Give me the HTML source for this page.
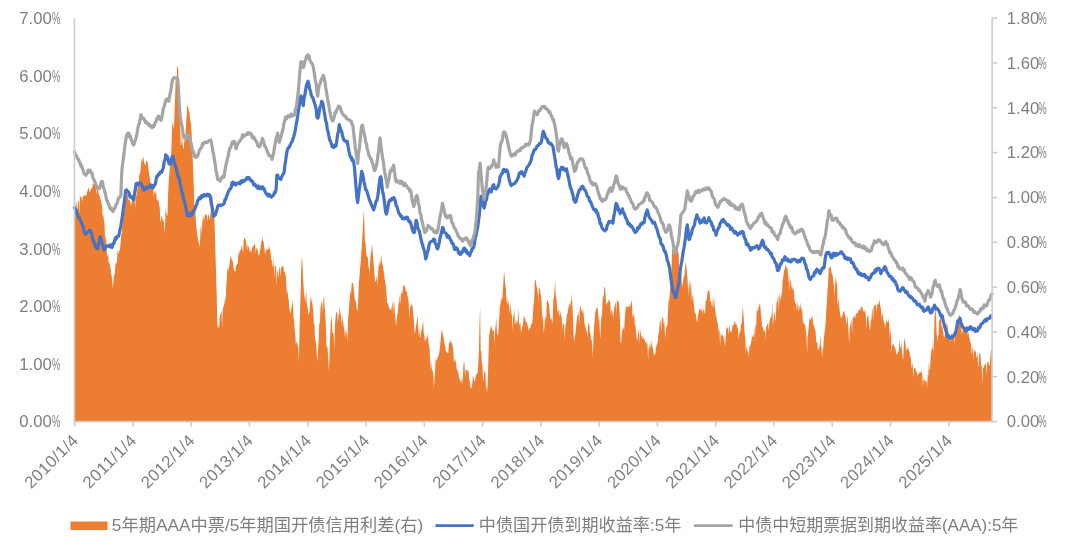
<!DOCTYPE html>
<html lang="zh"><head><meta charset="utf-8"><title>chart</title>
<style>
html,body{margin:0;padding:0;background:#fff;}
body{width:1080px;height:554px;overflow:hidden;}
svg{display:block;}
text{font-family:"Liberation Sans","Noto Sans CJK SC",sans-serif;font-weight:300;fill:#7f7f7f;}
.ax{font-size:16.7px;}
.lg{font-size:17.2px;font-weight:400;}
</style></head><body>
<svg width="1080" height="554" viewBox="0 0 1080 554">
<rect width="1080" height="554" fill="#fff"/>
<path d="M74.5,421.0 L74.5,197.2 L75.1,201.6 L75.7,212.0 L76.3,200.2 L76.9,208.4 L77.5,209.4 L78.1,201.3 L78.7,200.5 L79.3,215.3 L79.9,194.3 L80.5,197.5 L81.1,196.4 L81.7,198.3 L82.3,202.1 L82.9,195.3 L83.5,196.0 L84.1,196.4 L84.7,194.5 L85.3,196.0 L85.9,194.7 L86.5,195.6 L87.1,192.0 L87.7,190.5 L88.3,187.6 L88.9,188.8 L89.5,191.7 L90.1,191.7 L90.7,190.1 L91.3,188.6 L91.9,188.8 L92.5,185.9 L93.1,182.7 L93.7,184.5 L94.3,184.2 L94.9,180.9 L95.5,180.5 L96.1,187.7 L96.7,194.7 L97.3,187.9 L97.9,188.3 L98.5,192.5 L99.1,195.8 L99.7,195.7 L100.3,198.7 L100.9,200.4 L101.5,203.2 L102.1,207.0 L102.7,217.6 L103.3,213.7 L103.9,220.9 L104.5,222.9 L105.1,242.1 L105.7,234.7 L106.3,240.8 L106.9,255.8 L107.5,255.4 L108.1,253.8 L108.7,263.1 L109.3,261.9 L109.9,265.7 L110.5,267.6 L111.1,273.5 L111.7,275.4 L112.3,282.8 L112.9,288.3 L113.5,279.7 L114.1,275.0 L114.7,274.7 L115.3,266.7 L115.9,262.1 L116.5,264.1 L117.1,260.2 L117.7,249.3 L118.3,254.5 L118.9,251.0 L119.5,250.9 L120.1,248.2 L120.7,242.6 L121.3,234.2 L121.9,233.8 L122.5,223.2 L123.1,219.3 L123.7,212.7 L124.3,211.5 L124.9,204.5 L125.5,195.9 L126.1,198.3 L126.7,195.8 L127.3,194.1 L127.9,193.4 L128.5,199.6 L129.1,200.8 L129.7,199.4 L130.3,201.7 L130.9,206.4 L131.5,203.1 L132.1,200.1 L132.7,200.0 L133.3,195.1 L133.9,201.9 L134.5,197.6 L135.1,209.8 L135.7,195.9 L136.3,195.6 L136.9,193.5 L137.5,188.0 L138.1,186.1 L138.7,185.4 L139.3,173.1 L139.9,175.0 L140.5,170.7 L141.1,164.5 L141.7,158.5 L142.3,159.1 L142.9,162.2 L143.5,155.0 L144.1,162.9 L144.7,163.9 L145.3,165.7 L145.9,161.8 L146.5,160.8 L147.1,161.8 L147.7,161.4 L148.3,168.4 L148.9,172.2 L149.5,177.0 L150.1,181.3 L150.7,182.9 L151.3,185.5 L151.9,188.3 L152.5,187.8 L153.1,187.1 L153.7,196.9 L154.3,189.8 L154.9,194.6 L155.5,192.8 L156.1,189.2 L156.7,199.4 L157.3,200.6 L157.9,200.5 L158.5,199.6 L159.1,205.7 L159.7,206.7 L160.3,222.0 L160.9,220.7 L161.5,216.2 L162.1,215.6 L162.7,221.3 L163.3,220.0 L163.9,221.9 L164.5,233.8 L165.1,223.4 L165.7,207.5 L166.3,211.7 L166.9,215.8 L167.5,215.2 L168.1,193.6 L168.7,182.4 L169.3,173.9 L169.9,167.5 L170.5,157.6 L171.1,155.1 L171.7,140.2 L172.3,122.7 L172.9,123.0 L173.5,129.3 L174.1,123.7 L174.7,108.8 L175.3,91.5 L175.9,71.6 L176.5,86.1 L177.1,67.1 L177.7,65.7 L178.3,71.0 L178.9,90.8 L179.5,105.5 L180.1,120.5 L180.7,145.5 L181.3,144.7 L181.9,133.2 L182.5,143.0 L183.1,148.2 L183.7,148.7 L184.3,140.5 L184.9,140.8 L185.5,136.2 L186.1,123.5 L186.7,114.8 L187.3,104.3 L187.9,106.2 L188.5,108.6 L189.1,111.2 L189.7,114.0 L190.3,123.6 L190.9,119.6 L191.5,131.4 L192.1,144.1 L192.7,158.9 L193.3,173.1 L193.9,189.2 L194.5,210.2 L195.1,203.5 L195.7,219.2 L196.3,226.2 L196.9,231.6 L197.5,236.6 L198.1,239.0 L198.7,243.0 L199.3,244.9 L199.9,247.3 L200.5,229.1 L201.1,224.2 L201.7,234.8 L202.3,221.8 L202.9,219.2 L203.5,215.4 L204.1,221.7 L204.7,215.7 L205.3,215.1 L205.9,214.2 L206.5,214.4 L207.1,216.2 L207.7,221.5 L208.3,214.2 L208.9,214.8 L209.5,220.6 L210.1,216.3 L210.7,211.3 L211.3,205.5 L211.9,214.1 L212.5,194.0 L213.1,204.5 L213.7,206.9 L214.3,217.0 L214.9,233.8 L215.5,254.9 L216.1,275.5 L216.7,294.1 L217.3,321.7 L217.9,328.3 L218.5,326.3 L219.1,328.3 L219.7,318.1 L220.3,314.2 L220.9,313.5 L221.5,310.4 L222.1,327.2 L222.7,310.8 L223.3,307.1 L223.9,306.0 L224.5,302.5 L225.1,296.6 L225.7,302.8 L226.3,284.6 L226.9,277.2 L227.5,266.5 L228.1,271.0 L228.7,267.7 L229.3,265.7 L229.9,261.3 L230.5,256.2 L231.1,256.5 L231.7,260.1 L232.3,259.7 L232.9,262.7 L233.5,266.5 L234.1,271.1 L234.7,271.3 L235.3,271.5 L235.9,265.4 L236.5,265.6 L237.1,264.3 L237.7,263.7 L238.3,254.7 L238.9,254.2 L239.5,251.5 L240.1,249.8 L240.7,251.0 L241.3,246.8 L241.9,245.5 L242.5,249.7 L243.1,253.5 L243.7,240.4 L244.3,237.5 L244.9,237.9 L245.5,239.2 L246.1,241.4 L246.7,249.4 L247.3,242.2 L247.9,250.3 L248.5,245.6 L249.1,247.1 L249.7,251.7 L250.3,249.2 L250.9,253.2 L251.5,251.1 L252.1,249.0 L252.7,245.8 L253.3,245.7 L253.9,246.6 L254.5,242.9 L255.1,244.8 L255.7,253.8 L256.3,248.3 L256.9,248.4 L257.5,249.2 L258.1,253.3 L258.7,256.1 L259.3,254.5 L259.9,249.9 L260.5,248.8 L261.1,241.9 L261.7,241.7 L262.3,236.2 L262.9,241.2 L263.5,241.0 L264.1,247.1 L264.7,250.2 L265.3,254.4 L265.9,250.6 L266.5,250.0 L267.1,248.5 L267.7,250.0 L268.3,249.9 L268.9,244.9 L269.5,248.4 L270.1,249.1 L270.7,253.4 L271.3,260.7 L271.9,260.3 L272.5,265.7 L273.1,267.2 L273.7,257.1 L274.3,279.0 L274.9,266.8 L275.5,264.4 L276.1,268.1 L276.7,287.0 L277.3,269.5 L277.9,272.3 L278.5,278.7 L279.1,268.3 L279.7,266.5 L280.3,277.6 L280.9,267.8 L281.5,267.7 L282.1,266.5 L282.7,265.9 L283.3,266.3 L283.9,271.9 L284.5,270.9 L285.1,273.7 L285.7,275.1 L286.3,283.6 L286.9,294.2 L287.5,289.2 L288.1,297.6 L288.7,300.1 L289.3,307.3 L289.9,311.7 L290.5,313.5 L291.1,311.3 L291.7,306.6 L292.3,304.4 L292.9,299.4 L293.5,317.4 L294.1,320.6 L294.7,328.7 L295.3,334.7 L295.9,345.7 L296.5,342.0 L297.1,341.6 L297.7,345.6 L298.3,348.2 L298.9,363.0 L299.5,330.8 L300.1,310.6 L300.7,291.4 L301.3,266.0 L301.9,256.7 L302.5,263.8 L303.1,277.5 L303.7,288.5 L304.3,300.6 L304.9,292.6 L305.5,303.8 L306.1,288.5 L306.7,302.6 L307.3,305.3 L307.9,309.5 L308.5,315.0 L309.1,313.8 L309.7,310.4 L310.3,299.1 L310.9,296.6 L311.5,301.3 L312.1,302.6 L312.7,305.9 L313.3,312.6 L313.9,323.9 L314.5,324.8 L315.1,339.2 L315.7,340.9 L316.3,346.1 L316.9,356.8 L317.5,362.1 L318.1,348.8 L318.7,339.1 L319.3,322.5 L319.9,323.8 L320.5,307.4 L321.1,305.4 L321.7,300.7 L322.3,302.4 L322.9,313.1 L323.5,297.7 L324.1,296.5 L324.7,307.4 L325.3,314.3 L325.9,326.8 L326.5,347.2 L327.1,345.7 L327.7,350.1 L328.3,360.7 L328.9,370.9 L329.5,355.7 L330.1,338.8 L330.7,324.7 L331.3,315.2 L331.9,321.3 L332.5,332.9 L333.1,332.9 L333.7,334.5 L334.3,349.7 L334.9,325.0 L335.5,318.9 L336.1,310.9 L336.7,312.8 L337.3,313.7 L337.9,323.9 L338.5,313.8 L339.1,315.1 L339.7,304.9 L340.3,316.8 L340.9,310.4 L341.5,325.9 L342.1,315.1 L342.7,321.6 L343.3,322.2 L343.9,328.0 L344.5,331.0 L345.1,338.7 L345.7,329.1 L346.3,334.7 L346.9,329.2 L347.5,343.3 L348.1,317.6 L348.7,313.2 L349.3,303.1 L349.9,297.5 L350.5,290.1 L351.1,293.4 L351.7,283.6 L352.3,283.2 L352.9,282.4 L353.5,286.4 L354.1,293.2 L354.7,298.6 L355.3,300.7 L355.9,301.3 L356.5,306.9 L357.1,310.8 L357.7,310.6 L358.3,297.8 L358.9,281.9 L359.5,277.0 L360.1,268.6 L360.7,263.2 L361.3,252.6 L361.9,246.0 L362.5,233.4 L363.1,222.7 L363.7,210.6 L364.3,220.8 L364.9,240.6 L365.5,242.4 L366.1,252.3 L366.7,256.0 L367.3,257.1 L367.9,257.6 L368.5,266.6 L369.1,269.4 L369.7,272.9 L370.3,258.3 L370.9,253.7 L371.5,250.2 L372.1,243.9 L372.7,250.9 L373.3,260.7 L373.9,266.9 L374.5,274.7 L375.1,281.6 L375.7,281.5 L376.3,279.3 L376.9,274.6 L377.5,286.6 L378.1,272.0 L378.7,265.0 L379.3,265.5 L379.9,262.3 L380.5,263.1 L381.1,253.6 L381.7,260.7 L382.3,264.8 L382.9,265.5 L383.5,270.0 L384.1,274.0 L384.7,278.8 L385.3,282.2 L385.9,286.7 L386.5,293.3 L387.1,302.4 L387.7,303.2 L388.3,304.1 L388.9,307.8 L389.5,307.6 L390.1,309.9 L390.7,310.1 L391.3,309.3 L391.9,306.2 L392.5,301.6 L393.1,314.7 L393.7,300.9 L394.3,302.9 L394.9,312.5 L395.5,319.8 L396.1,326.5 L396.7,318.4 L397.3,315.1 L397.9,312.5 L398.5,303.8 L399.1,303.2 L399.7,294.3 L400.3,304.6 L400.9,293.7 L401.5,292.6 L402.1,293.9 L402.7,290.0 L403.3,286.7 L403.9,284.1 L404.5,285.8 L405.1,287.0 L405.7,290.7 L406.3,292.1 L406.9,291.0 L407.5,296.0 L408.1,298.5 L408.7,302.5 L409.3,318.8 L409.9,309.0 L410.5,306.2 L411.1,302.8 L411.7,305.7 L412.3,304.6 L412.9,310.3 L413.5,317.1 L414.1,324.4 L414.7,333.7 L415.3,331.6 L415.9,326.1 L416.5,323.8 L417.1,318.0 L417.7,315.3 L418.3,337.5 L418.9,325.4 L419.5,332.6 L420.1,338.2 L420.7,336.5 L421.3,330.8 L421.9,328.7 L422.5,324.5 L423.1,319.9 L423.7,333.0 L424.3,334.7 L424.9,342.0 L425.5,338.4 L426.1,341.0 L426.7,336.4 L427.3,337.7 L427.9,333.1 L428.5,342.4 L429.1,345.8 L429.7,350.1 L430.3,371.6 L430.9,358.0 L431.5,366.5 L432.1,369.4 L432.7,370.8 L433.3,374.5 L433.9,388.4 L434.5,377.8 L435.1,370.3 L435.7,358.1 L436.3,360.1 L436.9,361.1 L437.5,357.9 L438.1,355.7 L438.7,355.7 L439.3,352.7 L439.9,348.1 L440.5,342.0 L441.1,335.4 L441.7,329.3 L442.3,332.0 L442.9,334.7 L443.5,337.2 L444.1,341.7 L444.7,345.4 L445.3,345.9 L445.9,351.3 L446.5,352.2 L447.1,352.4 L447.7,353.2 L448.3,352.9 L448.9,344.5 L449.5,342.5 L450.1,339.2 L450.7,342.5 L451.3,342.3 L451.9,343.1 L452.5,345.8 L453.1,347.4 L453.7,358.6 L454.3,363.4 L454.9,357.9 L455.5,360.6 L456.1,362.9 L456.7,369.5 L457.3,368.9 L457.9,372.2 L458.5,373.0 L459.1,378.6 L459.7,379.0 L460.3,379.9 L460.9,382.7 L461.5,381.8 L462.1,375.8 L462.7,385.0 L463.3,366.6 L463.9,361.9 L464.5,363.3 L465.1,377.6 L465.7,368.9 L466.3,369.9 L466.9,369.8 L467.5,370.2 L468.1,371.7 L468.7,371.8 L469.3,380.6 L469.9,381.3 L470.5,388.9 L471.1,386.7 L471.7,389.1 L472.3,383.8 L472.9,376.0 L473.5,376.7 L474.1,381.7 L474.7,380.5 L475.3,379.5 L475.9,375.0 L476.5,375.1 L477.1,373.0 L477.7,372.0 L478.3,363.3 L478.9,352.8 L479.5,324.5 L480.1,304.6 L480.7,351.4 L481.3,350.9 L481.9,364.4 L482.5,364.6 L483.1,380.2 L483.7,379.9 L484.3,371.0 L484.9,370.9 L485.5,373.4 L486.1,392.6 L486.7,384.7 L487.3,391.3 L487.9,376.5 L488.5,356.0 L489.1,335.5 L489.7,333.1 L490.3,328.8 L490.9,326.3 L491.5,326.0 L492.1,330.5 L492.7,330.6 L493.3,329.2 L493.9,331.6 L494.5,343.4 L495.1,330.5 L495.7,324.8 L496.3,317.7 L496.9,331.3 L497.5,335.2 L498.1,335.4 L498.7,326.4 L499.3,317.3 L499.9,306.4 L500.5,304.1 L501.1,296.7 L501.7,300.9 L502.3,297.9 L502.9,291.2 L503.5,279.9 L504.1,271.3 L504.7,277.4 L505.3,285.0 L505.9,288.1 L506.5,303.8 L507.1,295.8 L507.7,305.7 L508.3,300.4 L508.9,304.6 L509.5,315.1 L510.1,302.4 L510.7,308.0 L511.3,312.2 L511.9,315.6 L512.5,331.4 L513.1,313.0 L513.7,318.3 L514.3,307.9 L514.9,324.9 L515.5,319.8 L516.1,325.2 L516.7,320.9 L517.3,322.8 L517.9,318.6 L518.5,306.8 L519.1,325.9 L519.7,323.3 L520.3,321.9 L520.9,332.3 L521.5,331.5 L522.1,326.8 L522.7,326.1 L523.3,320.7 L523.9,314.7 L524.5,318.3 L525.1,317.7 L525.7,322.1 L526.3,321.4 L526.9,322.5 L527.5,324.7 L528.1,328.2 L528.7,331.6 L529.3,328.0 L529.9,328.3 L530.5,328.6 L531.1,323.0 L531.7,325.1 L532.3,322.2 L532.9,315.9 L533.5,304.2 L534.1,301.8 L534.7,283.2 L535.3,279.4 L535.9,280.4 L536.5,286.2 L537.1,287.4 L537.7,292.2 L538.3,302.4 L538.9,289.9 L539.5,287.7 L540.1,289.5 L540.7,294.9 L541.3,297.1 L541.9,311.1 L542.5,317.2 L543.1,320.5 L543.7,332.9 L544.3,328.3 L544.9,318.8 L545.5,315.5 L546.1,321.8 L546.7,304.1 L547.3,299.5 L547.9,301.3 L548.5,302.9 L549.1,303.9 L549.7,313.3 L550.3,317.3 L550.9,320.6 L551.5,316.7 L552.1,324.3 L552.7,320.5 L553.3,300.0 L553.9,296.6 L554.5,291.5 L555.1,279.2 L555.7,295.8 L556.3,297.0 L556.9,304.6 L557.5,313.3 L558.1,308.4 L558.7,311.1 L559.3,317.5 L559.9,310.2 L560.5,312.7 L561.1,315.9 L561.7,317.0 L562.3,330.7 L562.9,322.9 L563.5,324.0 L564.1,324.6 L564.7,340.9 L565.3,325.5 L565.9,325.0 L566.5,317.6 L567.1,313.7 L567.7,313.6 L568.3,307.9 L568.9,306.0 L569.5,302.8 L570.1,307.1 L570.7,301.9 L571.3,300.8 L571.9,293.2 L572.5,308.6 L573.1,321.0 L573.7,337.5 L574.3,341.6 L574.9,335.7 L575.5,333.2 L576.1,326.7 L576.7,320.0 L577.3,315.0 L577.9,315.7 L578.5,310.4 L579.1,325.5 L579.7,309.6 L580.3,307.4 L580.9,305.1 L581.5,311.4 L582.1,309.2 L582.7,313.9 L583.3,309.4 L583.9,317.5 L584.5,323.9 L585.1,325.4 L585.7,328.0 L586.3,331.1 L586.9,330.5 L587.5,337.9 L588.1,325.2 L588.7,321.9 L589.3,325.1 L589.9,333.0 L590.5,333.9 L591.1,341.5 L591.7,338.5 L592.3,346.5 L592.9,357.6 L593.5,337.5 L594.1,326.3 L594.7,320.2 L595.3,312.0 L595.9,310.4 L596.5,306.9 L597.1,309.4 L597.7,305.3 L598.3,323.2 L598.9,311.6 L599.5,323.3 L600.1,339.2 L600.7,330.6 L601.3,313.5 L601.9,319.3 L602.5,302.7 L603.1,293.6 L603.7,298.3 L604.3,286.4 L604.9,287.6 L605.5,292.4 L606.1,305.9 L606.7,302.5 L607.3,302.3 L607.9,303.6 L608.5,299.9 L609.1,299.1 L609.7,301.6 L610.3,302.7 L610.9,315.6 L611.5,310.1 L612.1,310.1 L612.7,313.5 L613.3,318.7 L613.9,312.4 L614.5,306.1 L615.1,303.5 L615.7,302.8 L616.3,314.3 L616.9,300.1 L617.5,300.2 L618.1,303.4 L618.7,300.1 L619.3,307.0 L619.9,318.2 L620.5,342.6 L621.1,343.0 L621.7,336.1 L622.3,330.3 L622.9,328.4 L623.5,326.2 L624.1,331.7 L624.7,319.4 L625.3,312.8 L625.9,305.7 L626.5,306.4 L627.1,307.6 L627.7,306.5 L628.3,306.4 L628.9,307.6 L629.5,304.7 L630.1,307.5 L630.7,304.6 L631.3,301.9 L631.9,300.5 L632.5,316.7 L633.1,317.0 L633.7,312.9 L634.3,315.4 L634.9,324.7 L635.5,326.1 L636.1,332.5 L636.7,339.2 L637.3,340.7 L637.9,335.7 L638.5,331.3 L639.1,328.1 L639.7,344.6 L640.3,328.7 L640.9,333.9 L641.5,337.1 L642.1,335.5 L642.7,338.9 L643.3,337.5 L643.9,339.0 L644.5,339.3 L645.1,341.8 L645.7,341.7 L646.3,345.5 L646.9,340.1 L647.5,344.2 L648.1,361.6 L648.7,347.4 L649.3,349.0 L649.9,342.8 L650.5,347.9 L651.1,339.7 L651.7,344.6 L652.3,345.9 L652.9,348.9 L653.5,352.9 L654.1,354.5 L654.7,355.5 L655.3,353.9 L655.9,347.8 L656.5,346.1 L657.1,343.8 L657.7,342.0 L658.3,334.6 L658.9,332.6 L659.5,325.5 L660.1,319.5 L660.7,322.3 L661.3,332.6 L661.9,318.4 L662.5,318.8 L663.1,315.5 L663.7,324.4 L664.3,320.6 L664.9,332.8 L665.5,338.8 L666.1,328.0 L666.7,325.7 L667.3,326.6 L667.9,314.0 L668.5,301.7 L669.1,300.6 L669.7,295.0 L670.3,288.3 L670.9,280.0 L671.5,270.1 L672.1,251.0 L672.7,247.7 L673.3,254.2 L673.9,252.3 L674.5,254.4 L675.1,250.0 L675.7,248.1 L676.3,248.9 L676.9,246.6 L677.5,243.1 L678.1,250.8 L678.7,255.1 L679.3,273.4 L679.9,267.2 L680.5,272.3 L681.1,274.1 L681.7,282.2 L682.3,286.9 L682.9,283.0 L683.5,278.0 L684.1,277.2 L684.7,272.7 L685.3,265.5 L685.9,261.4 L686.5,267.3 L687.1,273.6 L687.7,282.1 L688.3,296.8 L688.9,284.2 L689.5,282.5 L690.1,293.7 L690.7,278.9 L691.3,286.7 L691.9,301.8 L692.5,295.5 L693.1,296.3 L693.7,303.3 L694.3,308.7 L694.9,312.9 L695.5,313.1 L696.1,316.3 L696.7,320.7 L697.3,322.5 L697.9,317.3 L698.5,313.6 L699.1,309.7 L699.7,308.3 L700.3,308.9 L700.9,310.7 L701.5,311.4 L702.1,305.4 L702.7,314.4 L703.3,310.3 L703.9,308.6 L704.5,312.7 L705.1,313.9 L705.7,300.1 L706.3,301.0 L706.9,298.6 L707.5,292.6 L708.1,289.8 L708.7,290.7 L709.3,290.6 L709.9,296.5 L710.5,301.8 L711.1,300.8 L711.7,305.3 L712.3,308.2 L712.9,296.0 L713.5,308.5 L714.1,295.5 L714.7,306.9 L715.3,309.8 L715.9,316.5 L716.5,316.0 L717.1,322.5 L717.7,321.5 L718.3,333.6 L718.9,327.0 L719.5,330.2 L720.1,346.8 L720.7,333.7 L721.3,336.3 L721.9,332.9 L722.5,335.0 L723.1,336.7 L723.7,337.8 L724.3,346.9 L724.9,333.4 L725.5,346.5 L726.1,328.0 L726.7,330.1 L727.3,327.1 L727.9,327.8 L728.5,335.0 L729.1,329.1 L729.7,323.2 L730.3,332.8 L730.9,331.8 L731.5,331.5 L732.1,329.3 L732.7,324.3 L733.3,325.6 L733.9,324.8 L734.5,321.1 L735.1,322.1 L735.7,324.8 L736.3,323.4 L736.9,326.5 L737.5,326.9 L738.1,329.5 L738.7,340.2 L739.3,332.5 L739.9,332.9 L740.5,330.6 L741.1,323.5 L741.7,323.5 L742.3,314.6 L742.9,306.0 L743.5,314.8 L744.1,325.2 L744.7,333.9 L745.3,337.7 L745.9,353.7 L746.5,347.3 L747.1,346.6 L747.7,352.5 L748.3,351.6 L748.9,357.5 L749.5,344.6 L750.1,347.2 L750.7,343.8 L751.3,342.0 L751.9,336.2 L752.5,337.3 L753.1,335.8 L753.7,335.1 L754.3,326.5 L754.9,341.1 L755.5,323.6 L756.1,327.9 L756.7,310.0 L757.3,310.2 L757.9,311.6 L758.5,307.3 L759.1,306.3 L759.7,303.0 L760.3,305.5 L760.9,314.4 L761.5,318.0 L762.1,326.4 L762.7,326.8 L763.3,329.3 L763.9,331.7 L764.5,330.3 L765.1,329.9 L765.7,339.7 L766.3,326.5 L766.9,325.5 L767.5,324.3 L768.1,322.7 L768.7,330.9 L769.3,323.1 L769.9,319.4 L770.5,318.7 L771.1,316.5 L771.7,314.8 L772.3,302.7 L772.9,325.3 L773.5,320.7 L774.1,311.3 L774.7,313.3 L775.3,321.5 L775.9,316.8 L776.5,302.2 L777.1,302.5 L777.7,298.2 L778.3,294.1 L778.9,311.7 L779.5,290.6 L780.1,300.7 L780.7,297.6 L781.3,291.7 L781.9,298.2 L782.5,281.3 L783.1,278.2 L783.7,273.5 L784.3,270.1 L784.9,269.3 L785.5,264.5 L786.1,264.8 L786.7,268.2 L787.3,267.1 L787.9,271.9 L788.5,284.1 L789.1,272.2 L789.7,292.5 L790.3,280.2 L790.9,280.4 L791.5,286.2 L792.1,290.4 L792.7,285.5 L793.3,291.8 L793.9,287.8 L794.5,299.0 L795.1,303.3 L795.7,302.4 L796.3,305.4 L796.9,310.7 L797.5,301.1 L798.1,313.1 L798.7,304.4 L799.3,306.4 L799.9,310.3 L800.5,301.8 L801.1,311.7 L801.7,307.0 L802.3,310.3 L802.9,321.8 L803.5,322.6 L804.1,325.2 L804.7,323.0 L805.3,326.0 L805.9,330.9 L806.5,337.3 L807.1,353.0 L807.7,336.4 L808.3,331.0 L808.9,324.9 L809.5,317.7 L810.1,320.2 L810.7,318.7 L811.3,318.6 L811.9,316.8 L812.5,315.6 L813.1,327.1 L813.7,322.6 L814.3,327.0 L814.9,329.4 L815.5,330.8 L816.1,340.5 L816.7,342.4 L817.3,342.3 L817.9,349.6 L818.5,349.9 L819.1,348.0 L819.7,344.9 L820.3,334.2 L820.9,346.4 L821.5,347.2 L822.1,358.8 L822.7,349.4 L823.3,347.8 L823.9,337.8 L824.5,333.4 L825.1,328.2 L825.7,321.9 L826.3,309.0 L826.9,303.2 L827.5,289.2 L828.1,284.9 L828.7,267.3 L829.3,268.4 L829.9,267.1 L830.5,265.9 L831.1,269.6 L831.7,273.4 L832.3,273.9 L832.9,277.4 L833.5,282.5 L834.1,286.4 L834.7,297.7 L835.3,281.7 L835.9,277.0 L836.5,284.1 L837.1,282.2 L837.7,307.3 L838.3,297.6 L838.9,303.4 L839.5,309.6 L840.1,314.0 L840.7,317.2 L841.3,318.4 L841.9,314.8 L842.5,316.9 L843.1,312.1 L843.7,311.1 L844.3,311.8 L844.9,314.5 L845.5,316.7 L846.1,321.1 L846.7,325.4 L847.3,314.5 L847.9,321.5 L848.5,331.5 L849.1,344.0 L849.7,328.1 L850.3,325.7 L850.9,321.1 L851.5,320.5 L852.1,334.0 L852.7,317.0 L853.3,317.9 L853.9,315.5 L854.5,316.5 L855.1,318.4 L855.7,314.0 L856.3,313.5 L856.9,312.6 L857.5,314.5 L858.1,311.4 L858.7,310.3 L859.3,308.8 L859.9,310.9 L860.5,308.8 L861.1,305.4 L861.7,307.5 L862.3,307.0 L862.9,310.4 L863.5,311.4 L864.1,310.7 L864.7,312.5 L865.3,308.9 L865.9,318.1 L866.5,329.1 L867.1,315.5 L867.7,317.9 L868.3,313.6 L868.9,322.4 L869.5,328.9 L870.1,329.9 L870.7,320.9 L871.3,319.9 L871.9,311.3 L872.5,307.5 L873.1,321.3 L873.7,307.0 L874.3,305.6 L874.9,305.3 L875.5,305.1 L876.1,304.4 L876.7,313.1 L877.3,304.3 L877.9,302.7 L878.5,304.9 L879.1,302.8 L879.7,299.1 L880.3,309.4 L880.9,304.7 L881.5,319.3 L882.1,312.4 L882.7,315.0 L883.3,320.2 L883.9,321.9 L884.5,322.9 L885.1,328.4 L885.7,324.0 L886.3,321.4 L886.9,319.3 L887.5,322.4 L888.1,322.3 L888.7,318.3 L889.3,326.3 L889.9,339.7 L890.5,328.9 L891.1,334.2 L891.7,352.8 L892.3,344.2 L892.9,344.7 L893.5,343.5 L894.1,346.6 L894.7,347.1 L895.3,347.9 L895.9,351.7 L896.5,354.4 L897.1,354.6 L897.7,352.8 L898.3,351.8 L898.9,350.1 L899.5,338.9 L900.1,346.7 L900.7,348.4 L901.3,341.5 L901.9,351.4 L902.5,354.9 L903.1,360.5 L903.7,349.2 L904.3,338.5 L904.9,339.8 L905.5,344.1 L906.1,352.2 L906.7,348.0 L907.3,346.8 L907.9,350.0 L908.5,348.3 L909.1,351.1 L909.7,353.5 L910.3,357.0 L910.9,358.4 L911.5,368.6 L912.1,364.5 L912.7,363.6 L913.3,378.3 L913.9,368.5 L914.5,367.5 L915.1,369.6 L915.7,368.3 L916.3,371.5 L916.9,372.7 L917.5,376.0 L918.1,373.9 L918.7,374.3 L919.3,371.7 L919.9,373.6 L920.5,372.7 L921.1,369.4 L921.7,372.4 L922.3,374.5 L922.9,387.8 L923.5,377.2 L924.1,380.6 L924.7,380.2 L925.3,381.5 L925.9,381.2 L926.5,380.2 L927.1,388.5 L927.7,374.6 L928.3,376.1 L928.9,360.2 L929.5,369.7 L930.1,369.0 L930.7,356.0 L931.3,350.1 L931.9,348.9 L932.5,348.8 L933.1,340.5 L933.7,355.3 L934.3,325.7 L934.9,301.9 L935.5,309.3 L936.1,319.1 L936.7,333.3 L937.3,342.3 L937.9,335.5 L938.5,335.3 L939.1,320.4 L939.7,319.5 L940.3,317.4 L940.9,315.1 L941.5,327.8 L942.1,324.7 L942.7,329.4 L943.3,332.4 L943.9,337.0 L944.5,337.0 L945.1,331.2 L945.7,327.2 L946.3,321.3 L946.9,333.7 L947.5,322.3 L948.1,329.6 L948.7,338.2 L949.3,340.8 L949.9,340.8 L950.5,337.6 L951.1,336.4 L951.7,340.8 L952.3,337.8 L952.9,335.0 L953.5,333.3 L954.1,331.2 L954.7,346.5 L955.3,330.0 L955.9,330.1 L956.5,321.2 L957.1,326.3 L957.7,323.4 L958.3,323.9 L958.9,315.6 L959.5,315.0 L960.1,321.4 L960.7,318.0 L961.3,335.7 L961.9,324.6 L962.5,333.8 L963.1,330.6 L963.7,328.9 L964.3,328.8 L964.9,326.0 L965.5,329.0 L966.1,332.1 L966.7,324.4 L967.3,326.5 L967.9,336.6 L968.5,331.1 L969.1,337.0 L969.7,338.6 L970.3,344.1 L970.9,339.8 L971.5,355.8 L972.1,345.7 L972.7,350.3 L973.3,359.4 L973.9,349.1 L974.5,350.2 L975.1,352.1 L975.7,350.7 L976.3,356.8 L976.9,357.2 L977.5,352.7 L978.1,366.9 L978.7,364.2 L979.3,352.5 L979.9,353.5 L980.5,354.9 L981.1,365.3 L981.7,365.7 L982.3,383.9 L982.9,368.3 L983.5,368.2 L984.1,365.8 L984.7,364.9 L985.3,363.4 L985.9,364.6 L986.5,375.6 L987.1,360.8 L987.7,363.3 L988.3,361.5 L988.9,366.0 L989.5,365.0 L990.1,360.9 L990.7,351.7 L991.3,349.4 L991.9,348.6 L991.9,421.0 Z" fill="#ED7D31" stroke="none"/>
<path d="M74.5,207.7 L75.3,209.4 L76.1,210.1 L76.9,212.3 L77.7,215.4 L78.5,217.0 L79.3,217.2 L80.1,219.8 L80.9,221.2 L81.7,223.3 L82.5,225.4 L83.3,227.7 L84.1,231.6 L84.9,233.3 L85.7,234.3 L86.5,233.3 L87.3,232.4 L88.1,232.2 L88.9,231.6 L89.7,230.1 L90.5,231.1 L91.3,232.5 L92.1,236.5 L92.9,239.8 L93.7,242.3 L94.5,242.5 L95.3,246.4 L96.1,247.3 L96.9,248.7 L97.7,248.6 L98.5,244.5 L99.3,241.5 L100.1,236.5 L100.9,238.5 L101.7,241.8 L102.5,244.6 L103.3,247.1 L104.1,249.9 L104.9,248.9 L105.7,247.3 L106.5,245.9 L107.3,246.2 L108.1,246.0 L108.9,246.4 L109.7,244.8 L110.5,247.0 L111.3,245.9 L112.1,247.3 L112.9,243.7 L113.7,244.0 L114.5,241.3 L115.3,238.0 L116.1,239.2 L116.9,236.8 L117.7,236.1 L118.5,236.2 L119.3,233.4 L120.1,229.4 L120.9,225.8 L121.7,220.4 L122.5,215.6 L123.3,208.4 L124.1,203.3 L124.9,197.0 L125.7,190.4 L126.5,189.9 L127.3,191.2 L128.1,191.7 L128.9,192.4 L129.7,195.8 L130.5,197.4 L131.3,196.5 L132.1,197.9 L132.9,199.2 L133.7,199.7 L134.5,194.0 L135.3,189.9 L136.1,183.5 L136.9,183.3 L137.7,184.9 L138.5,183.2 L139.3,183.3 L140.1,182.6 L140.9,183.7 L141.7,184.8 L142.5,186.7 L143.3,189.7 L144.1,190.3 L144.9,188.8 L145.7,187.6 L146.5,187.6 L147.3,188.4 L148.1,187.1 L148.9,187.2 L149.7,187.1 L150.5,185.0 L151.3,187.0 L152.1,185.4 L152.9,188.1 L153.7,186.4 L154.5,185.0 L155.3,184.2 L156.1,179.6 L156.9,176.3 L157.7,176.0 L158.5,174.3 L159.3,174.4 L160.1,172.1 L160.9,171.6 L161.7,172.2 L162.5,170.0 L163.3,167.9 L164.1,162.0 L164.9,160.4 L165.7,154.8 L166.5,155.9 L167.3,156.4 L168.1,159.0 L168.9,163.4 L169.7,164.1 L170.5,164.1 L171.3,159.6 L172.1,157.0 L172.9,156.1 L173.7,160.1 L174.5,163.7 L175.3,165.2 L176.1,167.5 L176.9,172.2 L177.7,175.1 L178.5,177.4 L179.3,178.6 L180.1,183.3 L180.9,186.3 L181.7,191.3 L182.5,193.0 L183.3,197.4 L184.1,200.8 L184.9,203.5 L185.7,207.4 L186.5,211.2 L187.3,215.4 L188.1,214.9 L188.9,214.3 L189.7,216.0 L190.5,213.1 L191.3,215.2 L192.1,214.6 L192.9,213.1 L193.7,210.8 L194.5,209.6 L195.3,208.0 L196.1,205.5 L196.9,204.1 L197.7,200.4 L198.5,199.8 L199.3,197.7 L200.1,198.8 L200.9,198.3 L201.7,195.7 L202.5,196.7 L203.3,196.4 L204.1,194.4 L204.9,195.1 L205.7,195.9 L206.5,195.4 L207.3,194.3 L208.1,195.8 L208.9,194.4 L209.7,195.1 L210.5,197.6 L211.3,203.7 L212.1,207.3 L212.9,212.2 L213.7,216.3 L214.5,215.7 L215.3,215.2 L216.1,212.1 L216.9,209.8 L217.7,206.6 L218.5,205.1 L219.3,205.2 L220.1,205.1 L220.9,205.6 L221.7,204.9 L222.5,204.9 L223.3,204.3 L224.1,203.6 L224.9,199.7 L225.7,199.7 L226.5,196.2 L227.3,194.9 L228.1,192.2 L228.9,190.9 L229.7,189.1 L230.5,188.9 L231.3,186.9 L232.1,182.6 L232.9,182.2 L233.7,184.7 L234.5,183.0 L235.3,184.0 L236.1,184.8 L236.9,183.3 L237.7,183.2 L238.5,183.1 L239.3,182.6 L240.1,183.9 L240.9,181.3 L241.7,180.6 L242.5,182.2 L243.3,180.4 L244.1,181.1 L244.9,180.1 L245.7,180.1 L246.5,178.3 L247.3,177.4 L248.1,178.8 L248.9,177.5 L249.7,178.6 L250.5,180.0 L251.3,181.2 L252.1,180.9 L252.9,182.2 L253.7,184.9 L254.5,184.6 L255.3,184.7 L256.1,186.5 L256.9,186.2 L257.7,188.3 L258.5,186.1 L259.3,188.5 L260.1,187.7 L260.9,187.1 L261.7,188.8 L262.5,186.8 L263.3,187.9 L264.1,188.6 L264.9,191.2 L265.7,193.1 L266.5,194.0 L267.3,194.4 L268.1,196.0 L268.9,194.1 L269.7,194.9 L270.5,196.0 L271.3,197.2 L272.1,196.3 L272.9,195.9 L273.7,194.8 L274.5,192.3 L275.3,192.5 L276.1,189.1 L276.9,175.1 L277.7,175.1 L278.5,177.9 L279.3,178.1 L280.1,178.9 L280.9,179.3 L281.7,176.7 L282.5,175.1 L283.3,173.9 L284.1,172.5 L284.9,165.0 L285.7,160.3 L286.5,154.3 L287.3,150.1 L288.1,148.0 L288.9,147.8 L289.7,146.0 L290.5,144.4 L291.3,142.6 L292.1,141.9 L292.9,138.7 L293.7,137.1 L294.5,133.6 L295.3,130.4 L296.1,124.8 L296.9,121.0 L297.7,115.8 L298.5,109.7 L299.3,105.8 L300.1,101.1 L300.9,95.9 L301.7,97.8 L302.5,101.1 L303.3,105.6 L304.1,98.2 L304.9,94.7 L305.7,89.5 L306.5,85.1 L307.3,83.0 L308.1,81.2 L308.9,84.3 L309.7,89.0 L310.5,91.3 L311.3,95.1 L312.1,97.0 L312.9,97.7 L313.7,100.6 L314.5,102.9 L315.3,105.8 L316.1,108.5 L316.9,117.0 L317.7,118.2 L318.5,116.5 L319.3,111.0 L320.1,106.7 L320.9,105.7 L321.7,101.4 L322.5,102.4 L323.3,105.9 L324.1,111.2 L324.9,115.7 L325.7,120.8 L326.5,122.9 L327.3,129.6 L328.1,131.6 L328.9,136.1 L329.7,139.9 L330.5,141.3 L331.3,143.6 L332.1,146.6 L332.9,146.4 L333.7,147.5 L334.5,145.2 L335.3,146.5 L336.1,145.4 L336.9,140.0 L337.7,133.9 L338.5,131.5 L339.3,124.7 L340.1,127.8 L340.9,130.1 L341.7,131.5 L342.5,135.7 L343.3,138.5 L344.1,140.3 L344.9,140.3 L345.7,141.3 L346.5,142.1 L347.3,141.5 L348.1,146.6 L348.9,151.0 L349.7,154.4 L350.5,157.4 L351.3,157.1 L352.1,160.7 L352.9,159.5 L353.7,162.3 L354.5,167.8 L355.3,178.1 L356.1,188.1 L356.9,197.6 L357.7,202.4 L358.5,196.0 L359.3,189.5 L360.1,184.1 L360.9,177.7 L361.7,171.3 L362.5,173.6 L363.3,177.6 L364.1,182.1 L364.9,186.0 L365.7,189.9 L366.5,190.3 L367.3,192.5 L368.1,195.4 L368.9,197.9 L369.7,200.7 L370.5,202.0 L371.3,204.6 L372.1,206.5 L372.9,207.9 L373.7,209.9 L374.5,206.9 L375.3,204.5 L376.1,201.0 L376.9,200.7 L377.7,196.7 L378.5,190.4 L379.3,183.3 L380.1,177.6 L380.9,176.8 L381.7,184.0 L382.5,190.8 L383.3,194.4 L384.1,199.4 L384.9,205.8 L385.7,212.3 L386.5,214.1 L387.3,210.5 L388.1,206.1 L388.9,201.7 L389.7,200.4 L390.5,199.5 L391.3,200.3 L392.1,198.4 L392.9,198.9 L393.7,197.6 L394.5,198.9 L395.3,201.1 L396.1,205.4 L396.9,206.5 L397.7,209.3 L398.5,212.3 L399.3,213.9 L400.1,214.7 L400.9,216.5 L401.7,216.1 L402.5,218.7 L403.3,218.1 L404.1,218.8 L404.9,218.9 L405.7,217.3 L406.5,218.2 L407.3,217.2 L408.1,219.7 L408.9,221.5 L409.7,221.1 L410.5,222.5 L411.3,225.1 L412.1,228.9 L412.9,231.0 L413.7,232.5 L414.5,232.2 L415.3,226.1 L416.1,220.3 L416.9,222.0 L417.7,227.5 L418.5,229.5 L419.3,231.1 L420.1,234.8 L420.9,238.7 L421.7,242.5 L422.5,244.3 L423.3,247.8 L424.1,249.6 L424.9,253.3 L425.7,258.9 L426.5,256.6 L427.3,252.4 L428.1,250.6 L428.9,245.9 L429.7,242.8 L430.5,241.9 L431.3,241.6 L432.1,241.1 L432.9,240.6 L433.7,239.1 L434.5,239.3 L435.3,243.8 L436.1,244.3 L436.9,248.0 L437.7,248.8 L438.5,246.0 L439.3,242.5 L440.1,237.5 L440.9,235.1 L441.7,231.7 L442.5,227.4 L443.3,228.1 L444.1,232.2 L444.9,232.9 L445.7,233.0 L446.5,234.5 L447.3,237.3 L448.1,235.5 L448.9,236.5 L449.7,238.2 L450.5,239.7 L451.3,241.2 L452.1,243.5 L452.9,243.4 L453.7,245.5 L454.5,249.3 L455.3,249.3 L456.1,247.6 L456.9,248.2 L457.7,249.5 L458.5,252.9 L459.3,252.0 L460.1,254.4 L460.9,254.2 L461.7,252.3 L462.5,252.1 L463.3,249.2 L464.1,248.1 L464.9,248.5 L465.7,251.5 L466.5,250.3 L467.3,253.7 L468.1,253.7 L468.9,253.0 L469.7,255.6 L470.5,252.7 L471.3,251.8 L472.1,248.6 L472.9,248.6 L473.7,246.9 L474.5,243.7 L475.3,237.0 L476.1,235.6 L476.9,230.7 L477.7,227.1 L478.5,220.5 L479.3,215.2 L480.1,206.1 L480.9,196.3 L481.7,197.7 L482.5,201.2 L483.3,206.1 L484.1,208.0 L484.9,205.1 L485.7,200.7 L486.5,199.7 L487.3,194.4 L488.1,193.5 L488.9,190.2 L489.7,189.1 L490.5,190.1 L491.3,191.9 L492.1,187.7 L492.9,185.5 L493.7,184.7 L494.5,188.5 L495.3,188.4 L496.1,189.0 L496.9,187.6 L497.7,187.1 L498.5,185.1 L499.3,182.0 L500.1,176.6 L500.9,175.6 L501.7,173.6 L502.5,173.2 L503.3,169.5 L504.1,169.4 L504.9,171.3 L505.7,171.5 L506.5,170.0 L507.3,171.0 L508.1,173.7 L508.9,178.5 L509.7,181.3 L510.5,184.1 L511.3,185.6 L512.1,184.6 L512.9,184.4 L513.7,183.7 L514.5,183.7 L515.3,182.4 L516.1,181.7 L516.9,180.4 L517.7,178.6 L518.5,176.7 L519.3,173.0 L520.1,173.3 L520.9,172.2 L521.7,171.7 L522.5,174.1 L523.3,173.1 L524.1,176.1 L524.9,172.8 L525.7,171.7 L526.5,168.5 L527.3,166.9 L528.1,165.9 L528.9,165.1 L529.7,163.6 L530.5,162.0 L531.3,159.8 L532.1,155.2 L532.9,153.9 L533.7,151.2 L534.5,149.5 L535.3,149.5 L536.1,148.3 L536.9,146.4 L537.7,145.6 L538.5,145.4 L539.3,143.5 L540.1,143.5 L540.9,143.3 L541.7,140.4 L542.5,134.6 L543.3,131.3 L544.1,133.2 L544.9,135.5 L545.7,137.6 L546.5,138.9 L547.3,139.0 L548.1,142.5 L548.9,142.3 L549.7,143.9 L550.5,143.3 L551.3,144.0 L552.1,145.4 L552.9,146.3 L553.7,151.1 L554.5,156.2 L555.3,160.7 L556.1,166.6 L556.9,169.8 L557.7,175.6 L558.5,178.6 L559.3,175.7 L560.1,169.6 L560.9,168.5 L561.7,167.2 L562.5,169.4 L563.3,167.7 L564.1,169.2 L564.9,170.3 L565.7,170.7 L566.5,168.8 L567.3,172.5 L568.1,176.1 L568.9,179.7 L569.7,184.1 L570.5,187.7 L571.3,189.2 L572.1,192.3 L572.9,194.6 L573.7,199.6 L574.5,201.2 L575.3,202.2 L576.1,201.5 L576.9,197.8 L577.7,194.8 L578.5,192.2 L579.3,190.1 L580.1,189.8 L580.9,188.1 L581.7,186.8 L582.5,186.2 L583.3,187.2 L584.1,189.5 L584.9,190.0 L585.7,191.1 L586.5,193.5 L587.3,196.1 L588.1,197.1 L588.9,197.8 L589.7,201.3 L590.5,201.5 L591.3,203.3 L592.1,205.9 L592.9,207.6 L593.7,209.3 L594.5,209.3 L595.3,211.0 L596.1,209.9 L596.9,213.2 L597.7,212.8 L598.5,217.5 L599.3,218.3 L600.1,223.7 L600.9,223.5 L601.7,227.0 L602.5,228.4 L603.3,229.6 L604.1,230.0 L604.9,230.8 L605.7,229.6 L606.5,229.4 L607.3,224.9 L608.1,224.1 L608.9,221.5 L609.7,222.1 L610.5,221.3 L611.3,221.9 L612.1,222.4 L612.9,223.2 L613.7,216.8 L614.5,213.0 L615.3,208.2 L616.1,203.4 L616.9,204.6 L617.7,206.2 L618.5,210.4 L619.3,209.9 L620.1,213.8 L620.9,211.2 L621.7,211.5 L622.5,208.9 L623.3,212.9 L624.1,213.3 L624.9,215.6 L625.7,218.1 L626.5,218.8 L627.3,221.2 L628.1,224.0 L628.9,223.3 L629.7,224.3 L630.5,226.3 L631.3,225.7 L632.1,226.9 L632.9,228.2 L633.7,230.0 L634.5,231.3 L635.3,232.5 L636.1,231.0 L636.9,231.1 L637.7,227.6 L638.5,228.4 L639.3,227.9 L640.1,225.1 L640.9,223.8 L641.7,224.3 L642.5,222.7 L643.3,223.0 L644.1,222.7 L644.9,217.5 L645.7,214.3 L646.5,212.0 L647.3,210.0 L648.1,212.9 L648.9,216.2 L649.7,217.9 L650.5,219.0 L651.3,220.4 L652.1,221.2 L652.9,223.1 L653.7,222.5 L654.5,222.3 L655.3,224.5 L656.1,227.7 L656.9,228.9 L657.7,231.8 L658.5,235.0 L659.3,237.5 L660.1,238.1 L660.9,243.5 L661.7,244.2 L662.5,245.3 L663.3,247.0 L664.1,251.0 L664.9,250.9 L665.7,253.0 L666.5,256.2 L667.3,260.7 L668.1,262.0 L668.9,265.4 L669.7,268.7 L670.5,275.6 L671.3,280.9 L672.1,286.3 L672.9,291.3 L673.7,292.2 L674.5,293.1 L675.3,297.5 L676.1,296.9 L676.9,292.0 L677.7,287.5 L678.5,285.5 L679.3,279.9 L680.1,271.4 L680.9,265.8 L681.7,261.8 L682.5,256.6 L683.3,251.2 L684.1,247.3 L684.9,241.8 L685.7,236.1 L686.5,228.7 L687.3,224.9 L688.1,230.8 L688.9,239.6 L689.7,239.1 L690.5,235.3 L691.3,234.6 L692.1,230.2 L692.9,227.9 L693.7,226.6 L694.5,225.0 L695.3,220.0 L696.1,218.0 L696.9,214.9 L697.7,217.3 L698.5,218.2 L699.3,220.1 L700.1,223.2 L700.9,222.0 L701.7,222.3 L702.5,220.0 L703.3,220.1 L704.1,217.8 L704.9,222.6 L705.7,222.4 L706.5,222.8 L707.3,221.2 L708.1,220.8 L708.9,217.7 L709.7,220.7 L710.5,221.5 L711.3,222.2 L712.1,226.0 L712.9,226.0 L713.7,230.2 L714.5,230.4 L715.3,231.6 L716.1,235.2 L716.9,231.4 L717.7,229.9 L718.5,227.9 L719.3,227.1 L720.1,223.4 L720.9,222.8 L721.7,220.6 L722.5,221.0 L723.3,219.3 L724.1,221.9 L724.9,221.7 L725.7,223.1 L726.5,224.2 L727.3,225.4 L728.1,224.5 L728.9,225.6 L729.7,226.1 L730.5,229.4 L731.3,227.7 L732.1,228.5 L732.9,230.5 L733.7,231.4 L734.5,233.2 L735.3,231.5 L736.1,232.8 L736.9,233.4 L737.7,235.1 L738.5,233.9 L739.3,232.9 L740.1,233.6 L740.9,232.1 L741.7,231.9 L742.5,231.4 L743.3,232.2 L744.1,237.0 L744.9,238.3 L745.7,240.1 L746.5,244.6 L747.3,243.4 L748.1,244.5 L748.9,246.6 L749.7,247.9 L750.5,250.2 L751.3,249.5 L752.1,247.7 L752.9,247.6 L753.7,248.2 L754.5,247.7 L755.3,246.8 L756.1,246.1 L756.9,245.7 L757.7,246.9 L758.5,249.0 L759.3,248.4 L760.1,246.6 L760.9,244.5 L761.7,242.3 L762.5,240.3 L763.3,242.0 L764.1,246.4 L764.9,247.5 L765.7,247.2 L766.5,249.6 L767.3,249.1 L768.1,249.8 L768.9,251.0 L769.7,252.3 L770.5,253.9 L771.3,253.4 L772.1,256.8 L772.9,257.8 L773.7,258.7 L774.5,260.7 L775.3,262.9 L776.1,263.2 L776.9,267.3 L777.7,270.5 L778.5,270.2 L779.3,267.8 L780.1,264.1 L780.9,264.2 L781.7,262.5 L782.5,259.8 L783.3,259.4 L784.1,260.0 L784.9,256.7 L785.7,257.8 L786.5,260.1 L787.3,260.5 L788.1,259.2 L788.9,261.3 L789.7,260.8 L790.5,261.8 L791.3,261.8 L792.1,259.6 L792.9,259.6 L793.7,259.3 L794.5,259.7 L795.3,259.5 L796.1,260.4 L796.9,261.8 L797.7,262.1 L798.5,260.3 L799.3,261.1 L800.1,261.5 L800.9,259.6 L801.7,258.2 L802.5,258.6 L803.3,258.3 L804.1,260.0 L804.9,263.5 L805.7,264.6 L806.5,269.0 L807.3,269.9 L808.1,272.9 L808.9,277.1 L809.7,278.9 L810.5,279.4 L811.3,277.8 L812.1,276.8 L812.9,276.0 L813.7,275.8 L814.5,272.4 L815.3,272.9 L816.1,270.4 L816.9,269.1 L817.7,270.2 L818.5,270.7 L819.3,272.6 L820.1,273.5 L820.9,271.6 L821.7,269.5 L822.5,267.9 L823.3,268.5 L824.1,267.6 L824.9,261.2 L825.7,255.6 L826.5,252.9 L827.3,252.4 L828.1,253.3 L828.9,252.5 L829.7,254.5 L830.5,256.0 L831.3,257.8 L832.1,257.7 L832.9,253.8 L833.7,253.2 L834.5,255.4 L835.3,255.8 L836.1,253.5 L836.9,254.3 L837.7,254.9 L838.5,253.7 L839.3,253.5 L840.1,253.1 L840.9,251.8 L841.7,252.1 L842.5,253.3 L843.3,254.6 L844.1,255.5 L844.9,258.2 L845.7,258.7 L846.5,257.6 L847.3,259.3 L848.1,259.3 L848.9,258.3 L849.7,258.9 L850.5,258.9 L851.3,262.6 L852.1,262.9 L852.9,262.7 L853.7,264.4 L854.5,267.3 L855.3,267.5 L856.1,269.7 L856.9,269.3 L857.7,272.3 L858.5,273.9 L859.3,272.8 L860.1,274.5 L860.9,273.5 L861.7,275.2 L862.5,275.6 L863.3,275.7 L864.1,274.3 L864.9,274.7 L865.7,277.2 L866.5,277.7 L867.3,277.2 L868.1,278.2 L868.9,280.1 L869.7,277.6 L870.5,277.8 L871.3,275.3 L872.1,274.0 L872.9,273.4 L873.7,272.9 L874.5,272.7 L875.3,269.8 L876.1,271.1 L876.9,268.8 L877.7,268.2 L878.5,268.4 L879.3,268.8 L880.1,270.6 L880.9,273.5 L881.7,270.7 L882.5,270.1 L883.3,270.1 L884.1,267.9 L884.9,266.6 L885.7,267.9 L886.5,270.9 L887.3,272.4 L888.1,273.4 L888.9,275.5 L889.7,276.4 L890.5,276.1 L891.3,277.1 L892.1,279.4 L892.9,278.4 L893.7,281.1 L894.5,280.6 L895.3,281.7 L896.1,284.7 L896.9,285.3 L897.7,289.2 L898.5,290.6 L899.3,291.0 L900.1,291.4 L900.9,289.6 L901.7,289.1 L902.5,287.6 L903.3,288.1 L904.1,290.2 L904.9,290.7 L905.7,292.5 L906.5,291.5 L907.3,292.5 L908.1,294.5 L908.9,295.8 L909.7,295.8 L910.5,297.7 L911.3,297.0 L912.1,297.9 L912.9,299.1 L913.7,300.4 L914.5,301.3 L915.3,300.9 L916.1,301.9 L916.9,304.2 L917.7,305.0 L918.5,304.9 L919.3,304.1 L920.1,306.0 L920.9,307.3 L921.7,307.0 L922.5,307.1 L923.3,310.7 L924.1,311.3 L924.9,309.8 L925.7,310.3 L926.5,310.0 L927.3,308.4 L928.1,307.0 L928.9,308.3 L929.7,310.9 L930.5,312.9 L931.3,312.9 L932.1,311.4 L932.9,308.1 L933.7,308.3 L934.5,305.2 L935.3,306.8 L936.1,309.2 L936.9,308.2 L937.7,309.1 L938.5,310.2 L939.3,311.7 L940.1,314.0 L940.9,316.1 L941.7,315.3 L942.5,316.5 L943.3,321.7 L944.1,324.1 L944.9,327.3 L945.7,330.1 L946.5,332.6 L947.3,336.3 L948.1,335.2 L948.9,337.1 L949.7,338.3 L950.5,338.2 L951.3,337.7 L952.1,335.9 L952.9,337.1 L953.7,335.7 L954.5,334.5 L955.3,333.4 L956.1,330.1 L956.9,326.2 L957.7,321.1 L958.5,320.2 L959.3,321.4 L960.1,318.2 L960.9,323.0 L961.7,324.3 L962.5,326.7 L963.3,327.3 L964.1,328.6 L964.9,330.7 L965.7,328.7 L966.5,330.8 L967.3,328.8 L968.1,328.0 L968.9,329.3 L969.7,327.7 L970.5,326.8 L971.3,327.5 L972.1,329.2 L972.9,329.9 L973.7,329.6 L974.5,328.5 L975.3,331.3 L976.1,331.2 L976.9,331.1 L977.7,330.3 L978.5,327.5 L979.3,328.1 L980.1,327.0 L980.9,324.4 L981.7,323.9 L982.5,323.1 L983.3,322.3 L984.1,321.5 L984.9,319.9 L985.7,319.6 L986.5,320.9 L987.3,318.7 L988.1,318.7 L988.9,318.7 L989.7,317.9 L990.5,316.0 L991.3,317.6" fill="none" stroke="#4472C4" stroke-width="3.2" stroke-linejoin="round" stroke-linecap="round"/>
<path d="M74.5,151.9 L75.3,154.2 L76.1,155.2 L76.9,157.0 L77.7,158.9 L78.5,159.0 L79.3,161.9 L80.1,162.9 L80.9,166.2 L81.7,166.0 L82.5,169.1 L83.3,170.4 L84.1,173.8 L84.9,174.3 L85.7,175.2 L86.5,174.2 L87.3,173.4 L88.1,170.2 L88.9,171.6 L89.7,170.1 L90.5,170.9 L91.3,173.0 L92.1,173.3 L92.9,177.9 L93.7,179.1 L94.5,181.0 L95.3,182.6 L96.1,185.4 L96.9,186.9 L97.7,188.7 L98.5,188.2 L99.3,188.6 L100.1,185.9 L100.9,183.1 L101.7,181.4 L102.5,181.8 L103.3,187.6 L104.1,189.4 L104.9,192.2 L105.7,195.0 L106.5,199.9 L107.3,200.7 L108.1,203.3 L108.9,204.8 L109.7,207.8 L110.5,209.4 L111.3,208.2 L112.1,210.0 L112.9,211.6 L113.7,209.1 L114.5,208.9 L115.3,207.0 L116.1,204.2 L116.9,203.9 L117.7,201.1 L118.5,197.8 L119.3,197.6 L120.1,197.0 L120.9,194.7 L121.7,173.0 L122.5,164.7 L123.3,159.0 L124.1,152.6 L124.9,145.4 L125.7,140.5 L126.5,136.1 L127.3,133.5 L128.1,133.0 L128.9,133.1 L129.7,137.3 L130.5,136.5 L131.3,140.0 L132.1,141.4 L132.9,144.1 L133.7,145.1 L134.5,142.6 L135.3,140.3 L136.1,137.7 L136.9,134.0 L137.7,129.2 L138.5,125.2 L139.3,123.3 L140.1,119.9 L140.9,114.6 L141.7,117.1 L142.5,118.6 L143.3,118.0 L144.1,118.9 L144.9,121.0 L145.7,122.8 L146.5,121.7 L147.3,123.1 L148.1,123.9 L148.9,125.7 L149.7,124.6 L150.5,126.2 L151.3,126.7 L152.1,127.7 L152.9,125.7 L153.7,126.6 L154.5,125.2 L155.3,122.3 L156.1,121.5 L156.9,118.1 L157.7,118.7 L158.5,116.1 L159.3,116.7 L160.1,119.4 L160.9,120.3 L161.7,119.0 L162.5,113.1 L163.3,108.8 L164.1,106.4 L164.9,103.9 L165.7,100.1 L166.5,99.4 L167.3,99.0 L168.1,101.2 L168.9,101.1 L169.7,95.5 L170.5,92.0 L171.3,87.5 L172.1,81.3 L172.9,79.2 L173.7,77.9 L174.5,77.7 L175.3,77.9 L176.1,78.0 L176.9,77.6 L177.7,79.3 L178.5,91.0 L179.3,104.0 L180.1,116.3 L180.9,121.1 L181.7,124.4 L182.5,129.3 L183.3,134.9 L184.1,137.9 L184.9,138.4 L185.7,138.5 L186.5,135.6 L187.3,136.0 L188.1,135.6 L188.9,134.8 L189.7,137.8 L190.5,141.5 L191.3,143.8 L192.1,149.2 L192.9,152.3 L193.7,151.7 L194.5,156.5 L195.3,157.0 L196.1,157.5 L196.9,155.6 L197.7,156.0 L198.5,153.8 L199.3,150.3 L200.1,149.4 L200.9,148.1 L201.7,147.3 L202.5,143.5 L203.3,144.5 L204.1,142.7 L204.9,142.2 L205.7,141.9 L206.5,142.3 L207.3,142.7 L208.1,141.4 L208.9,140.7 L209.7,140.6 L210.5,139.9 L211.3,141.7 L212.1,146.5 L212.9,151.5 L213.7,154.9 L214.5,160.4 L215.3,164.9 L216.1,171.2 L216.9,174.4 L217.7,179.6 L218.5,179.1 L219.3,179.3 L220.1,181.2 L220.9,178.8 L221.7,177.9 L222.5,176.6 L223.3,177.5 L224.1,176.9 L224.9,170.8 L225.7,166.2 L226.5,162.7 L227.3,159.0 L228.1,156.6 L228.9,152.4 L229.7,148.2 L230.5,148.1 L231.3,145.6 L232.1,142.3 L232.9,143.2 L233.7,141.3 L234.5,141.4 L235.3,145.3 L236.1,148.6 L236.9,145.6 L237.7,144.3 L238.5,142.5 L239.3,141.8 L240.1,140.7 L240.9,139.5 L241.7,138.8 L242.5,134.9 L243.3,135.2 L244.1,136.2 L244.9,135.6 L245.7,134.5 L246.5,134.4 L247.3,132.9 L248.1,134.3 L248.9,132.7 L249.7,133.1 L250.5,133.4 L251.3,134.1 L252.1,137.5 L252.9,138.1 L253.7,136.8 L254.5,138.6 L255.3,140.1 L256.1,141.2 L256.9,142.5 L257.7,145.9 L258.5,146.0 L259.3,146.9 L260.1,146.1 L260.9,143.3 L261.7,140.9 L262.5,138.5 L263.3,140.8 L264.1,143.6 L264.9,146.3 L265.7,146.9 L266.5,149.4 L267.3,151.6 L268.1,152.9 L268.9,155.6 L269.7,155.5 L270.5,155.7 L271.3,156.9 L272.1,159.4 L272.9,155.9 L273.7,153.2 L274.5,147.0 L275.3,143.2 L276.1,138.6 L276.9,136.6 L277.7,133.1 L278.5,140.0 L279.3,142.3 L280.1,139.4 L280.9,137.3 L281.7,133.7 L282.5,130.8 L283.3,127.3 L284.1,122.6 L284.9,120.2 L285.7,116.9 L286.5,118.9 L287.3,117.0 L288.1,115.8 L288.9,117.0 L289.7,116.9 L290.5,115.2 L291.3,114.0 L292.1,116.0 L292.9,115.3 L293.7,114.6 L294.5,115.1 L295.3,110.0 L296.1,107.8 L296.9,103.4 L297.7,96.1 L298.5,89.5 L299.3,79.0 L300.1,69.2 L300.9,61.9 L301.7,61.7 L302.5,65.1 L303.3,67.5 L304.1,65.7 L304.9,61.2 L305.7,60.1 L306.5,56.2 L307.3,55.7 L308.1,54.9 L308.9,55.6 L309.7,59.6 L310.5,61.5 L311.3,62.9 L312.1,63.5 L312.9,65.8 L313.7,69.7 L314.5,74.6 L315.3,80.6 L316.1,83.5 L316.9,91.9 L317.7,96.2 L318.5,89.1 L319.3,85.1 L320.1,83.5 L320.9,80.9 L321.7,78.6 L322.5,78.0 L323.3,75.3 L324.1,77.8 L324.9,81.3 L325.7,87.5 L326.5,92.1 L327.3,97.3 L328.1,101.8 L328.9,106.1 L329.7,110.7 L330.5,114.6 L331.3,118.8 L332.1,120.1 L332.9,121.0 L333.7,118.8 L334.5,115.8 L335.3,112.1 L336.1,112.5 L336.9,109.4 L337.7,108.3 L338.5,106.2 L339.3,106.4 L340.1,107.0 L340.9,110.2 L341.7,112.0 L342.5,113.8 L343.3,114.7 L344.1,115.5 L344.9,116.2 L345.7,116.4 L346.5,118.9 L347.3,119.0 L348.1,119.2 L348.9,119.6 L349.7,120.4 L350.5,120.7 L351.3,121.5 L352.1,124.7 L352.9,125.1 L353.7,133.3 L354.5,140.0 L355.3,148.2 L356.1,153.2 L356.9,158.7 L357.7,163.4 L358.5,153.5 L359.3,148.7 L360.1,140.8 L360.9,131.6 L361.7,126.0 L362.5,125.2 L363.3,130.2 L364.1,133.3 L364.9,136.8 L365.7,142.2 L366.5,143.6 L367.3,149.5 L368.1,151.4 L368.9,155.8 L369.7,156.2 L370.5,158.9 L371.3,158.9 L372.1,162.5 L372.9,163.9 L373.7,168.1 L374.5,170.7 L375.3,169.4 L376.1,166.7 L376.9,163.5 L377.7,157.3 L378.5,151.5 L379.3,143.1 L380.1,137.8 L380.9,145.3 L381.7,151.2 L382.5,157.2 L383.3,161.5 L384.1,167.8 L384.9,173.1 L385.7,177.6 L386.5,181.3 L387.3,187.1 L388.1,181.7 L388.9,179.4 L389.7,173.9 L390.5,170.5 L391.3,171.1 L392.1,168.0 L392.9,168.3 L393.7,165.1 L394.5,171.9 L395.3,177.6 L396.1,181.8 L396.9,180.3 L397.7,182.0 L398.5,181.5 L399.3,181.3 L400.1,183.3 L400.9,181.2 L401.7,183.0 L402.5,182.3 L403.3,185.0 L404.1,185.6 L404.9,183.4 L405.7,185.2 L406.5,185.6 L407.3,187.1 L408.1,188.3 L408.9,188.3 L409.7,191.2 L410.5,190.1 L411.3,193.4 L412.1,200.1 L412.9,202.7 L413.7,206.6 L414.5,204.2 L415.3,200.4 L416.1,196.5 L416.9,195.4 L417.7,197.9 L418.5,203.8 L419.3,206.9 L420.1,213.1 L420.9,214.8 L421.7,220.2 L422.5,222.6 L423.3,226.9 L424.1,229.6 L424.9,232.5 L425.7,231.3 L426.5,230.8 L427.3,228.0 L428.1,225.5 L428.9,226.4 L429.7,226.9 L430.5,227.7 L431.3,229.0 L432.1,228.6 L432.9,230.1 L433.7,231.6 L434.5,232.4 L435.3,232.7 L436.1,230.8 L436.9,232.8 L437.7,231.5 L438.5,226.5 L439.3,221.2 L440.1,216.6 L440.9,213.0 L441.7,208.5 L442.5,203.3 L443.3,206.7 L444.1,210.3 L444.9,214.0 L445.7,216.6 L446.5,216.2 L447.3,217.8 L448.1,215.8 L448.9,217.1 L449.7,216.6 L450.5,215.5 L451.3,219.3 L452.1,223.0 L452.9,223.7 L453.7,226.7 L454.5,228.0 L455.3,228.9 L456.1,231.1 L456.9,232.6 L457.7,234.6 L458.5,236.4 L459.3,237.0 L460.1,238.9 L460.9,239.0 L461.7,238.8 L462.5,241.3 L463.3,239.8 L464.1,239.0 L464.9,239.4 L465.7,238.2 L466.5,237.8 L467.3,239.8 L468.1,240.1 L468.9,243.3 L469.7,242.3 L470.5,245.7 L471.3,242.8 L472.1,240.1 L472.9,239.2 L473.7,235.7 L474.5,234.1 L475.3,228.1 L476.1,221.4 L476.9,212.1 L477.7,199.0 L478.5,173.3 L479.3,168.8 L480.1,163.1 L480.9,172.8 L481.7,181.3 L482.5,191.1 L483.3,195.0 L484.1,199.4 L484.9,193.6 L485.7,190.6 L486.5,184.2 L487.3,174.9 L488.1,167.3 L488.9,167.2 L489.7,168.7 L490.5,167.0 L491.3,167.2 L492.1,164.8 L492.9,164.4 L493.7,159.8 L494.5,164.0 L495.3,163.7 L496.1,167.3 L496.9,166.8 L497.7,165.7 L498.5,167.0 L499.3,157.1 L500.1,148.2 L500.9,142.9 L501.7,141.8 L502.5,138.8 L503.3,132.8 L504.1,132.0 L504.9,132.6 L505.7,134.3 L506.5,137.0 L507.3,140.0 L508.1,144.1 L508.9,147.9 L509.7,151.5 L510.5,154.1 L511.3,156.3 L512.1,154.4 L512.9,155.7 L513.7,154.7 L514.5,153.7 L515.3,154.9 L516.1,152.5 L516.9,151.7 L517.7,151.3 L518.5,150.4 L519.3,151.0 L520.1,150.8 L520.9,148.1 L521.7,148.3 L522.5,147.7 L523.3,147.3 L524.1,146.4 L524.9,146.4 L525.7,144.4 L526.5,144.2 L527.3,144.9 L528.1,143.9 L528.9,144.9 L529.7,142.9 L530.5,140.3 L531.3,132.0 L532.1,125.1 L532.9,121.1 L533.7,115.7 L534.5,111.1 L535.3,113.5 L536.1,112.9 L536.9,114.7 L537.7,113.9 L538.5,111.4 L539.3,110.3 L540.1,110.3 L540.9,108.7 L541.7,107.2 L542.5,106.7 L543.3,106.6 L544.1,107.2 L544.9,106.4 L545.7,108.7 L546.5,108.8 L547.3,109.1 L548.1,110.5 L548.9,112.5 L549.7,111.7 L550.5,113.5 L551.3,115.9 L552.1,117.2 L552.9,119.8 L553.7,120.1 L554.5,124.2 L555.3,128.4 L556.1,132.9 L556.9,138.9 L557.7,149.4 L558.5,151.2 L559.3,146.1 L560.1,144.1 L560.9,139.8 L561.7,138.7 L562.5,140.0 L563.3,142.5 L564.1,147.7 L564.9,146.8 L565.7,145.4 L566.5,143.5 L567.3,145.8 L568.1,148.6 L568.9,152.7 L569.7,154.5 L570.5,158.9 L571.3,157.3 L572.1,159.0 L572.9,163.8 L573.7,168.0 L574.5,171.4 L575.3,170.6 L576.1,168.8 L576.9,164.2 L577.7,161.9 L578.5,162.0 L579.3,159.6 L580.1,159.1 L580.9,158.8 L581.7,158.8 L582.5,159.4 L583.3,160.6 L584.1,163.4 L584.9,166.3 L585.7,168.5 L586.5,168.4 L587.3,172.0 L588.1,174.3 L588.9,175.7 L589.7,179.4 L590.5,181.1 L591.3,183.6 L592.1,182.4 L592.9,184.8 L593.7,184.8 L594.5,184.2 L595.3,183.6 L596.1,185.3 L596.9,186.6 L597.7,190.7 L598.5,193.1 L599.3,195.1 L600.1,198.7 L600.9,198.3 L601.7,200.8 L602.5,201.3 L603.3,199.4 L604.1,200.2 L604.9,199.6 L605.7,199.4 L606.5,197.6 L607.3,194.3 L608.1,193.2 L608.9,190.1 L609.7,188.9 L610.5,187.7 L611.3,191.3 L612.1,191.1 L612.9,188.6 L613.7,184.9 L614.5,183.0 L615.3,179.5 L616.1,175.8 L616.9,177.1 L617.7,182.1 L618.5,184.4 L619.3,185.4 L620.1,188.6 L620.9,189.2 L621.7,187.0 L622.5,186.9 L623.3,187.6 L624.1,188.9 L624.9,189.0 L625.7,188.4 L626.5,191.7 L627.3,193.0 L628.1,194.8 L628.9,195.6 L629.7,198.3 L630.5,199.2 L631.3,202.1 L632.1,202.9 L632.9,203.8 L633.7,206.8 L634.5,208.7 L635.3,209.2 L636.1,208.3 L636.9,207.8 L637.7,207.0 L638.5,205.0 L639.3,204.2 L640.1,203.9 L640.9,203.3 L641.7,202.5 L642.5,202.6 L643.3,200.6 L644.1,200.8 L644.9,197.3 L645.7,196.1 L646.5,193.3 L647.3,192.7 L648.1,194.4 L648.9,195.9 L649.7,200.4 L650.5,200.7 L651.3,201.3 L652.1,202.0 L652.9,203.3 L653.7,205.3 L654.5,206.6 L655.3,206.6 L656.1,208.4 L656.9,208.9 L657.7,211.6 L658.5,213.3 L659.3,215.2 L660.1,217.3 L660.9,220.5 L661.7,222.5 L662.5,222.9 L663.3,225.0 L664.1,228.6 L664.9,230.2 L665.7,232.3 L666.5,231.8 L667.3,230.3 L668.1,227.3 L668.9,225.0 L669.7,225.6 L670.5,228.6 L671.3,235.4 L672.1,238.1 L672.9,242.5 L673.7,247.4 L674.5,250.9 L675.3,253.2 L676.1,251.5 L676.9,246.8 L677.7,244.9 L678.5,240.7 L679.3,234.1 L680.1,224.7 L680.9,215.4 L681.7,213.6 L682.5,212.8 L683.3,211.9 L684.1,210.2 L684.9,208.8 L685.7,202.4 L686.5,196.8 L687.3,190.8 L688.1,194.4 L688.9,196.1 L689.7,200.0 L690.5,200.8 L691.3,201.2 L692.1,199.4 L692.9,196.2 L693.7,196.2 L694.5,194.7 L695.3,192.2 L696.1,191.2 L696.9,192.7 L697.7,191.3 L698.5,190.3 L699.3,192.4 L700.1,190.8 L700.9,190.5 L701.7,190.9 L702.5,189.8 L703.3,188.9 L704.1,189.9 L704.9,189.7 L705.7,188.1 L706.5,188.7 L707.3,189.3 L708.1,187.6 L708.9,188.1 L709.7,189.6 L710.5,190.2 L711.3,191.6 L712.1,195.6 L712.9,197.3 L713.7,198.1 L714.5,199.7 L715.3,203.5 L716.1,205.5 L716.9,205.3 L717.7,207.4 L718.5,206.0 L719.3,203.9 L720.1,201.7 L720.9,201.2 L721.7,200.8 L722.5,199.3 L723.3,199.4 L724.1,198.5 L724.9,199.1 L725.7,199.7 L726.5,200.3 L727.3,200.5 L728.1,202.7 L728.9,201.1 L729.7,204.4 L730.5,202.8 L731.3,205.4 L732.1,204.2 L732.9,205.9 L733.7,206.0 L734.5,205.7 L735.3,208.5 L736.1,208.8 L736.9,207.5 L737.7,209.3 L738.5,208.7 L739.3,210.0 L740.1,206.1 L740.9,205.9 L741.7,204.3 L742.5,204.4 L743.3,208.2 L744.1,211.7 L744.9,214.2 L745.7,217.1 L746.5,221.7 L747.3,223.0 L748.1,224.7 L748.9,226.8 L749.7,226.4 L750.5,228.6 L751.3,226.0 L752.1,226.3 L752.9,224.7 L753.7,223.3 L754.5,222.8 L755.3,222.0 L756.1,221.9 L756.9,220.5 L757.7,219.1 L758.5,216.9 L759.3,216.5 L760.1,214.3 L760.9,214.1 L761.7,213.3 L762.5,216.3 L763.3,218.2 L764.1,219.9 L764.9,223.3 L765.7,222.3 L766.5,225.1 L767.3,224.4 L768.1,225.1 L768.9,226.7 L769.7,227.4 L770.5,227.6 L771.3,228.2 L772.1,232.1 L772.9,231.6 L773.7,232.0 L774.5,234.9 L775.3,235.7 L776.1,236.3 L776.9,237.6 L777.7,239.5 L778.5,235.9 L779.3,234.1 L780.1,233.7 L780.9,229.8 L781.7,227.5 L782.5,224.3 L783.3,223.3 L784.1,220.8 L784.9,217.7 L785.7,216.2 L786.5,217.4 L787.3,220.9 L788.1,221.6 L788.9,224.6 L789.7,225.0 L790.5,227.5 L791.3,226.7 L792.1,228.5 L792.9,232.0 L793.7,232.5 L794.5,233.7 L795.3,233.8 L796.1,233.1 L796.9,231.7 L797.7,231.0 L798.5,231.8 L799.3,231.5 L800.1,230.0 L800.9,230.9 L801.7,229.1 L802.5,230.3 L803.3,231.3 L804.1,234.6 L804.9,236.3 L805.7,239.3 L806.5,240.2 L807.3,243.2 L808.1,245.6 L808.9,246.2 L809.7,248.7 L810.5,250.8 L811.3,251.0 L812.1,251.7 L812.9,252.7 L813.7,252.5 L814.5,251.5 L815.3,251.8 L816.1,252.6 L816.9,251.5 L817.7,251.9 L818.5,251.4 L819.3,252.4 L820.1,254.6 L820.9,254.9 L821.7,251.3 L822.5,246.1 L823.3,244.0 L824.1,238.6 L824.9,237.8 L825.7,233.0 L826.5,227.3 L827.3,220.9 L828.1,217.7 L828.9,210.7 L829.7,213.8 L830.5,214.9 L831.3,215.5 L832.1,220.1 L832.9,219.5 L833.7,220.1 L834.5,219.1 L835.3,218.1 L836.1,218.8 L836.9,218.3 L837.7,221.9 L838.5,221.7 L839.3,222.3 L840.1,224.6 L840.9,224.6 L841.7,225.4 L842.5,227.9 L843.3,227.2 L844.1,228.1 L844.9,229.3 L845.7,230.5 L846.5,233.7 L847.3,234.9 L848.1,236.1 L848.9,237.7 L849.7,237.3 L850.5,239.5 L851.3,238.9 L852.1,241.8 L852.9,242.4 L853.7,243.1 L854.5,242.6 L855.3,242.9 L856.1,245.7 L856.9,244.9 L857.7,245.4 L858.5,246.5 L859.3,244.7 L860.1,246.6 L860.9,246.2 L861.7,247.4 L862.5,246.6 L863.3,246.1 L864.1,248.6 L864.9,246.8 L865.7,248.9 L866.5,250.0 L867.3,249.0 L868.1,251.2 L868.9,251.1 L869.7,251.4 L870.5,250.4 L871.3,250.6 L872.1,246.9 L872.9,245.3 L873.7,243.3 L874.5,240.9 L875.3,242.7 L876.1,242.4 L876.9,242.4 L877.7,240.5 L878.5,239.8 L879.3,239.8 L880.1,240.9 L880.9,242.0 L881.7,242.6 L882.5,244.2 L883.3,243.6 L884.1,244.8 L884.9,242.4 L885.7,241.4 L886.5,243.3 L887.3,243.8 L888.1,247.7 L888.9,248.9 L889.7,252.6 L890.5,252.1 L891.3,254.0 L892.1,256.5 L892.9,257.4 L893.7,258.4 L894.5,260.4 L895.3,260.6 L896.1,262.6 L896.9,262.6 L897.7,266.3 L898.5,265.9 L899.3,268.6 L900.1,268.2 L900.9,268.8 L901.7,269.2 L902.5,268.1 L903.3,270.5 L904.1,269.5 L904.9,272.4 L905.7,273.4 L906.5,274.3 L907.3,275.9 L908.1,276.0 L908.9,277.9 L909.7,279.4 L910.5,277.6 L911.3,277.9 L912.1,279.5 L912.9,280.9 L913.7,281.5 L914.5,283.4 L915.3,287.1 L916.1,287.3 L916.9,287.3 L917.7,288.2 L918.5,290.2 L919.3,289.9 L920.1,291.5 L920.9,292.5 L921.7,293.6 L922.5,295.3 L923.3,297.8 L924.1,296.9 L924.9,301.1 L925.7,296.8 L926.5,293.6 L927.3,293.1 L928.1,290.5 L928.9,292.4 L929.7,293.4 L930.5,297.1 L931.3,295.5 L932.1,293.1 L932.9,287.9 L933.7,285.2 L934.5,281.8 L935.3,280.2 L936.1,284.8 L936.9,285.4 L937.7,286.5 L938.5,286.0 L939.3,284.8 L940.1,288.3 L940.9,291.1 L941.7,291.5 L942.5,296.0 L943.3,299.0 L944.1,299.4 L944.9,302.8 L945.7,305.2 L946.5,307.8 L947.3,309.0 L948.1,311.9 L948.9,312.9 L949.7,314.8 L950.5,315.3 L951.3,314.1 L952.1,314.3 L952.9,313.2 L953.7,310.4 L954.5,309.8 L955.3,307.3 L956.1,305.1 L956.9,301.2 L957.7,299.8 L958.5,296.8 L959.3,294.3 L960.1,289.5 L960.9,292.2 L961.7,297.6 L962.5,299.7 L963.3,302.2 L964.1,301.5 L964.9,302.2 L965.7,302.4 L966.5,305.8 L967.3,305.3 L968.1,305.9 L968.9,306.7 L969.7,308.5 L970.5,309.5 L971.3,309.2 L972.1,308.9 L972.9,310.2 L973.7,312.3 L974.5,311.4 L975.3,312.8 L976.1,313.1 L976.9,313.4 L977.7,314.0 L978.5,311.9 L979.3,311.8 L980.1,311.7 L980.9,308.3 L981.7,308.1 L982.5,308.6 L983.3,308.4 L984.1,304.9 L984.9,306.2 L985.7,305.7 L986.5,305.7 L987.3,304.0 L988.1,301.5 L988.9,300.2 L989.7,299.6 L990.5,297.8 L991.3,294.4 L992.1,293.9" fill="none" stroke="#A5A5A5" stroke-width="3.2" stroke-linejoin="round" stroke-linecap="round"/>
<g stroke="#cdcdcd" stroke-width="1.6" fill="none"><line x1="74.4" y1="18.1" x2="74.4" y2="422.29999999999995"/><line x1="74.4" y1="421.65" x2="992.1" y2="421.65"/><line x1="992.1" y1="17.450000000000003" x2="992.1" y2="422.29999999999995"/><line x1="74.7" y1="421.65" x2="74.7" y2="426.65"/><line x1="133.0" y1="421.65" x2="133.0" y2="426.65"/><line x1="191.2" y1="421.65" x2="191.2" y2="426.65"/><line x1="249.5" y1="421.65" x2="249.5" y2="426.65"/><line x1="307.8" y1="421.65" x2="307.8" y2="426.65"/><line x1="366.1" y1="421.65" x2="366.1" y2="426.65"/><line x1="424.3" y1="421.65" x2="424.3" y2="426.65"/><line x1="482.6" y1="421.65" x2="482.6" y2="426.65"/><line x1="540.9" y1="421.65" x2="540.9" y2="426.65"/><line x1="599.1" y1="421.65" x2="599.1" y2="426.65"/><line x1="657.4" y1="421.65" x2="657.4" y2="426.65"/><line x1="715.7" y1="421.65" x2="715.7" y2="426.65"/><line x1="773.9" y1="421.65" x2="773.9" y2="426.65"/><line x1="832.2" y1="421.65" x2="832.2" y2="426.65"/><line x1="890.5" y1="421.65" x2="890.5" y2="426.65"/><line x1="948.8" y1="421.65" x2="948.8" y2="426.65"/><line x1="992.1" y1="421.6" x2="997.3000000000001" y2="421.6"/><line x1="992.1" y1="376.8" x2="997.3000000000001" y2="376.8"/><line x1="992.1" y1="332.0" x2="997.3000000000001" y2="332.0"/><line x1="992.1" y1="287.1" x2="997.3000000000001" y2="287.1"/><line x1="992.1" y1="242.3" x2="997.3000000000001" y2="242.3"/><line x1="992.1" y1="197.5" x2="997.3000000000001" y2="197.5"/><line x1="992.1" y1="152.6" x2="997.3000000000001" y2="152.6"/><line x1="992.1" y1="107.8" x2="997.3000000000001" y2="107.8"/><line x1="992.1" y1="62.9" x2="997.3000000000001" y2="62.9"/><line x1="992.1" y1="18.1" x2="997.3000000000001" y2="18.1"/></g>
<text class="ax" x="51.8" y="427.4" text-anchor="end">0.00</text><text class="ax" x="52.0" y="427.4" textLength="8.4" lengthAdjust="spacingAndGlyphs">%</text><text class="ax" x="51.8" y="369.8" text-anchor="end">1.00</text><text class="ax" x="52.0" y="369.8" textLength="8.4" lengthAdjust="spacingAndGlyphs">%</text><text class="ax" x="51.8" y="312.2" text-anchor="end">2.00</text><text class="ax" x="52.0" y="312.2" textLength="8.4" lengthAdjust="spacingAndGlyphs">%</text><text class="ax" x="51.8" y="254.5" text-anchor="end">3.00</text><text class="ax" x="52.0" y="254.5" textLength="8.4" lengthAdjust="spacingAndGlyphs">%</text><text class="ax" x="51.8" y="196.9" text-anchor="end">4.00</text><text class="ax" x="52.0" y="196.9" textLength="8.4" lengthAdjust="spacingAndGlyphs">%</text><text class="ax" x="51.8" y="139.2" text-anchor="end">5.00</text><text class="ax" x="52.0" y="139.2" textLength="8.4" lengthAdjust="spacingAndGlyphs">%</text><text class="ax" x="51.8" y="81.5" text-anchor="end">6.00</text><text class="ax" x="52.0" y="81.5" textLength="8.4" lengthAdjust="spacingAndGlyphs">%</text><text class="ax" x="51.8" y="23.9" text-anchor="end">7.00</text><text class="ax" x="52.0" y="23.9" textLength="8.4" lengthAdjust="spacingAndGlyphs">%</text><text class="ax" x="1006.8" y="427.4">0.00</text><text class="ax" x="1038.2" y="427.4" textLength="8.4" lengthAdjust="spacingAndGlyphs">%</text><text class="ax" x="1006.8" y="382.6">0.20</text><text class="ax" x="1038.2" y="382.6" textLength="8.4" lengthAdjust="spacingAndGlyphs">%</text><text class="ax" x="1006.8" y="337.8">0.40</text><text class="ax" x="1038.2" y="337.8" textLength="8.4" lengthAdjust="spacingAndGlyphs">%</text><text class="ax" x="1006.8" y="292.9">0.60</text><text class="ax" x="1038.2" y="292.9" textLength="8.4" lengthAdjust="spacingAndGlyphs">%</text><text class="ax" x="1006.8" y="248.1">0.80</text><text class="ax" x="1038.2" y="248.1" textLength="8.4" lengthAdjust="spacingAndGlyphs">%</text><text class="ax" x="1006.8" y="203.3">1.00</text><text class="ax" x="1038.2" y="203.3" textLength="8.4" lengthAdjust="spacingAndGlyphs">%</text><text class="ax" x="1006.8" y="158.4">1.20</text><text class="ax" x="1038.2" y="158.4" textLength="8.4" lengthAdjust="spacingAndGlyphs">%</text><text class="ax" x="1006.8" y="113.6">1.40</text><text class="ax" x="1038.2" y="113.6" textLength="8.4" lengthAdjust="spacingAndGlyphs">%</text><text class="ax" x="1006.8" y="68.7">1.60</text><text class="ax" x="1038.2" y="68.7" textLength="8.4" lengthAdjust="spacingAndGlyphs">%</text><text class="ax" x="1006.8" y="23.9">1.80</text><text class="ax" x="1038.2" y="23.9" textLength="8.4" lengthAdjust="spacingAndGlyphs">%</text>
<text class="ax" transform="translate(79.0,441.6) rotate(-45)" text-anchor="end" textLength="67.5" lengthAdjust="spacing">2010/1/4</text><text class="ax" transform="translate(137.3,441.6) rotate(-45)" text-anchor="end" textLength="67.5" lengthAdjust="spacing">2011/1/4</text><text class="ax" transform="translate(195.5,441.6) rotate(-45)" text-anchor="end" textLength="67.5" lengthAdjust="spacing">2012/1/4</text><text class="ax" transform="translate(253.8,441.6) rotate(-45)" text-anchor="end" textLength="67.5" lengthAdjust="spacing">2013/1/4</text><text class="ax" transform="translate(312.1,441.6) rotate(-45)" text-anchor="end" textLength="67.5" lengthAdjust="spacing">2014/1/4</text><text class="ax" transform="translate(370.4,441.6) rotate(-45)" text-anchor="end" textLength="67.5" lengthAdjust="spacing">2015/1/4</text><text class="ax" transform="translate(428.6,441.6) rotate(-45)" text-anchor="end" textLength="67.5" lengthAdjust="spacing">2016/1/4</text><text class="ax" transform="translate(486.9,441.6) rotate(-45)" text-anchor="end" textLength="67.5" lengthAdjust="spacing">2017/1/4</text><text class="ax" transform="translate(545.2,441.6) rotate(-45)" text-anchor="end" textLength="67.5" lengthAdjust="spacing">2018/1/4</text><text class="ax" transform="translate(603.4,441.6) rotate(-45)" text-anchor="end" textLength="67.5" lengthAdjust="spacing">2019/1/4</text><text class="ax" transform="translate(661.7,441.6) rotate(-45)" text-anchor="end" textLength="67.5" lengthAdjust="spacing">2020/1/4</text><text class="ax" transform="translate(720.0,441.6) rotate(-45)" text-anchor="end" textLength="67.5" lengthAdjust="spacing">2021/1/4</text><text class="ax" transform="translate(778.2,441.6) rotate(-45)" text-anchor="end" textLength="67.5" lengthAdjust="spacing">2022/1/4</text><text class="ax" transform="translate(836.5,441.6) rotate(-45)" text-anchor="end" textLength="67.5" lengthAdjust="spacing">2023/1/4</text><text class="ax" transform="translate(894.8,441.6) rotate(-45)" text-anchor="end" textLength="67.5" lengthAdjust="spacing">2024/1/4</text><text class="ax" transform="translate(953.1,441.6) rotate(-45)" text-anchor="end" textLength="67.5" lengthAdjust="spacing">2025/1/4</text>
<rect x="70.5" y="521.5" width="37" height="8.5" fill="#ED7D31"/><text class="lg" x="111.8" y="531.3" textLength="311.5" lengthAdjust="spacingAndGlyphs">5年期AAA中票/5年期国开债信用利差(右)</text><line x1="435.5" y1="525.6" x2="473.7" y2="525.6" stroke="#4472C4" stroke-width="2.8"/><text class="lg" x="478.8" y="531.3" textLength="202.5" lengthAdjust="spacingAndGlyphs">中债国开债到期收益率:5年</text><line x1="694" y1="525.6" x2="732.7" y2="525.6" stroke="#A5A5A5" stroke-width="2.8"/><text class="lg" x="738.3" y="531.3" textLength="280" lengthAdjust="spacingAndGlyphs">中债中短期票据到期收益率(AAA):5年</text>
</svg>
</body></html>
